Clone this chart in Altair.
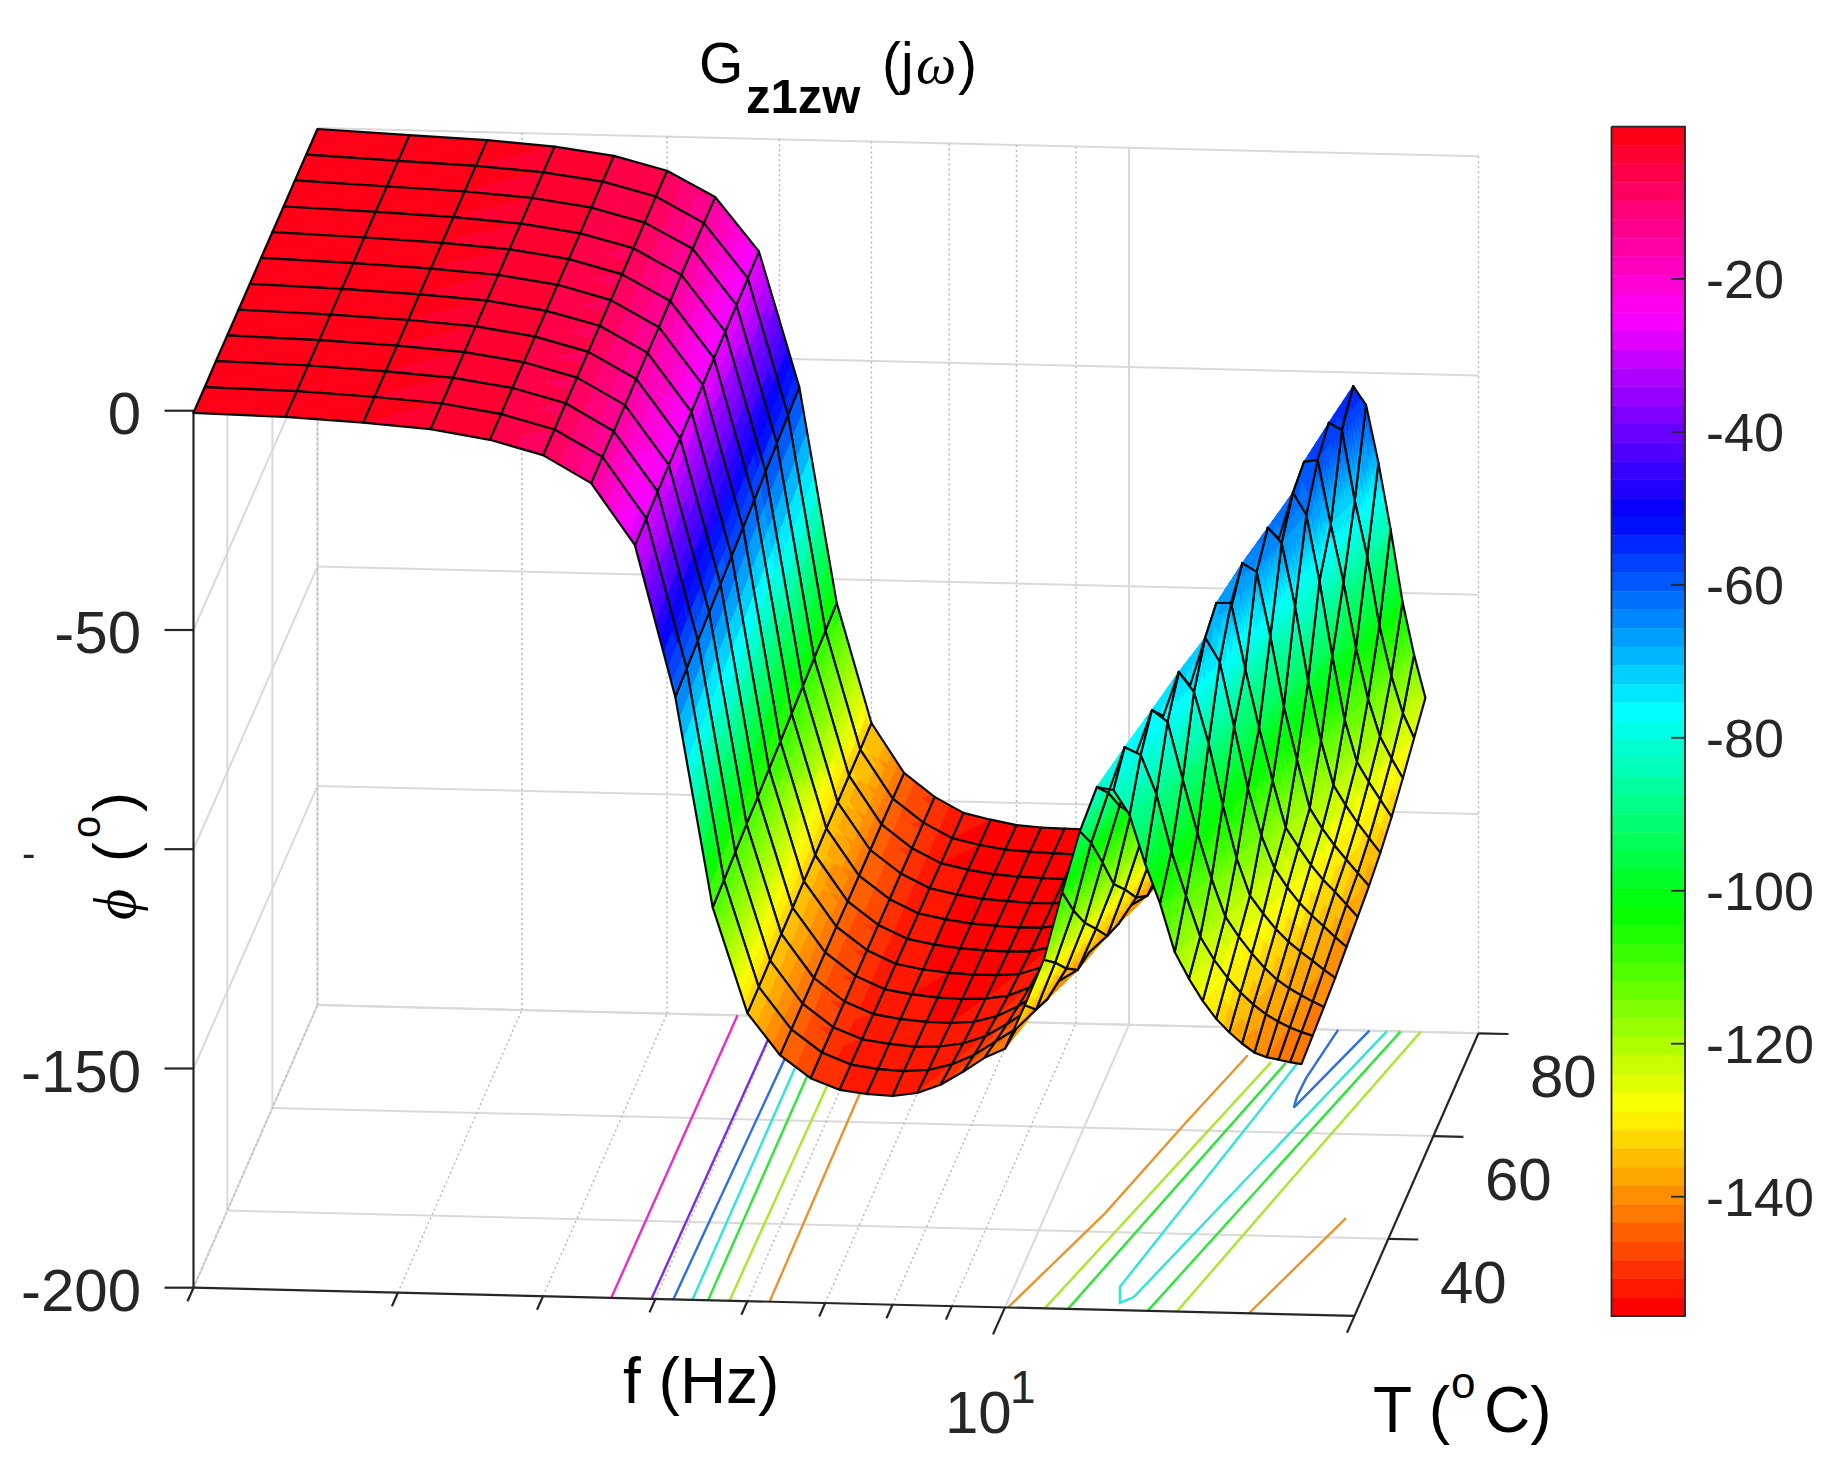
import math
import colorsys
import altair as alt
import pandas as pd

# ---------- data ----------
F_VALUES = [2.0,2.4,2.8,3.2,3.6,4.0,4.4,4.8,5.2,5.6,6.0,6.4,6.8,7.2,7.6,8.0,8.4,8.8,9.2,9.6,10.0,
            10.4,10.8,11.2,11.6,12.0,12.4,12.8,13.2,13.6,14.0,14.4,14.8,15.2,15.6,16.0,16.4,16.8,17.2,17.6,18.0]
T_VALUES = [25,30,35,40,45,50,55,60,65,70,75,80]

PHI_T25 = [-.5,-.9,-1.8,-2.9,-5,-8.2,-14.3,-28.2,-62.6,-110.4,-134.3,-143.7,-148.8,-151.3,-152.1,-152.4,-151.6,-149.6,-146.5,-143.2,-141,-131,-120.5,-105,-91,-80.8,-81.4,-87,-98,-107,-118,-124,-129,-133,-136,-138.5,-140.5,-141.5,-142,-142.5,-142.9]
PHI_T30 = [-.5,-.9,-1.8,-2.9,-5,-8.2,-14.2,-28,-62,-110,-134.2,-143.7,-148.8,-151.4,-152.3,-152.6,-152.2,-150.8,-148.5,-145.3,-142.3,-137.8,-127,-115,-99.5,-88,-77.5,-79.2,-88,-101,-111,-120.3,-125.5,-129.5,-132.8,-135.5,-137.6,-139.2,-140.5,-141.5,-142.3]
PHI_T35 = [-.4,-.9,-1.8,-2.9,-4.9,-8.1,-14.2,-27.7,-61.5,-109.5,-134,-143.7,-148.9,-151.5,-152.4,-152.9,-152.7,-151.9,-150.1,-147.2,-144.1,-141.3,-134.2,-123.7,-109.8,-96.8,-85,-74.8,-77.4,-90.4,-102.5,-112.9,-121.5,-126,-129.8,-133,-135.6,-137.5,-139,-140.4,-141.6]
PHI_T40 = [-.4,-1,-1.8,-2.9,-4.9,-8.1,-14.1,-27.5,-60.9,-109,-133.8,-143.7,-148.9,-151.6,-152.6,-153.1,-153.2,-152.8,-151.4,-149,-146,-143.1,-140.4,-130.9,-120.6,-104.4,-93.6,-82,-71.9,-76.4,-88,-102,-114,-122.5,-126.5,-130,-132.8,-135,-137,-139,-140.8]
PHI_T45 = [-.4,-1,-1.8,-2.9,-4.9,-8.1,-14,-27.3,-60.3,-108.6,-133.7,-143.7,-148.9,-151.8,-152.8,-153.4,-153.6,-153.4,-152.6,-150.6,-148,-145,-142.3,-138.4,-127.7,-115.8,-99.6,-90,-80.8,-69.9,-75.3,-90,-104,-114.6,-122,-126.3,-129.8,-132.6,-135,-137.4,-139.6]
PHI_T50 = [-.4,-1,-1.8,-2.9,-4.9,-8,-13.9,-27.1,-59.8,-108.1,-133.5,-143.7,-148.9,-151.9,-153,-153.6,-153.9,-153.9,-153.5,-151.9,-149.7,-147,-144.1,-141.5,-135.4,-124.8,-111,-96.4,-82,-67.8,-67.7,-82.7,-96,-108,-118.6,-123,-127,-130.3,-133,-135.8,-138.6]
PHI_T55 = [-.3,-1,-1.8,-2.9,-4.8,-8,-13.9,-26.8,-59.2,-107.7,-133.4,-143.8,-149,-152,-153.2,-153.9,-154.2,-154.4,-154.2,-153,-151.1,-148.8,-146,-143.3,-140.8,-132.6,-122.5,-106.4,-92.7,-78,-64.5,-66.4,-81,-97,-109,-120,-124.5,-128.3,-131.5,-134.5,-137.4]
PHI_T60 = [-.3,-1,-1.8,-2.9,-4.8,-8,-13.8,-26.6,-58.7,-107.2,-133.2,-143.8,-149,-152.1,-153.3,-154.1,-154.5,-154.7,-154.7,-153.8,-152.3,-150.3,-147.9,-145.2,-142.6,-140.1,-130,-119.4,-102.1,-88,-75,-62.2,-65.6,-80,-97,-110.5,-120.5,-125,-129,-132.4,-135.7]
PHI_T65 = [-.3,-1,-1.8,-2.9,-4.8,-7.9,-13.7,-26.4,-58.1,-106.8,-133.1,-143.8,-149,-152.2,-153.5,-154.3,-154.7,-155,-155,-154.4,-153.3,-151.7,-149.7,-147.1,-144.4,-142,-138.3,-127.7,-115.6,-98,-81,-70.5,-60,-65,-80,-97,-111.5,-121,-125.5,-129.5,-133.4]
PHI_T70 = [-.2,-1.1,-1.8,-2.9,-4.8,-7.9,-13.6,-26.2,-57.5,-106.3,-132.9,-143.8,-149.1,-152.4,-153.7,-154.6,-155,-155.2,-155.3,-154.9,-154.1,-152.8,-151.1,-149,-146.4,-143.9,-141.5,-136.1,-125.7,-111.6,-92.5,-72,-58.8,-58.3,-73,-86,-101,-112.5,-121,-126,-130.4]
PHI_T75 = [-.2,-1.1,-1.8,-2.9,-4.7,-7.8,-13.6,-25.9,-57,-105.9,-132.8,-143.8,-149.1,-152.5,-153.9,-154.8,-155.2,-155.4,-155.5,-155.2,-154.6,-153.7,-152.3,-150.4,-148.3,-145.8,-143.3,-141,-134.2,-123.9,-108,-84,-70.2,-55.7,-57.3,-73.3,-86,-101.6,-113,-121.5,-127.1]
PHI_T80 = [-.2,-1.1,-1.8,-2.9,-4.7,-7.8,-13.5,-25.7,-56.4,-105.4,-132.6,-143.8,-149.1,-152.6,-154,-155.1,-155.5,-155.6,-155.7,-155.5,-155,-154.3,-153.4,-152,-150.5,-149,-146.7,-144.5,-142,-132.5,-122,-104.6,-76,-64.4,-53.1,-57.3,-70.4,-85.5,-102,-114,-123.8]
PHI_ROWS = [PHI_T25,PHI_T30,PHI_T35,PHI_T40,PHI_T45,PHI_T50,PHI_T55,PHI_T60,PHI_T65,PHI_T70,PHI_T75,PHI_T80]

# floor contours: (level, [(f, T), ...])
CONTOURS = [
    (-20,  [(4.58,25),(4.60,80)]),
    (-40,  [(4.96,25),(4.99,80)]),
    (-60,  [(5.18,25),(5.25,80)]),
    (-80,  [(5.38,25),(5.39,80)]),
    (-100, [(5.55,25),(5.56,80)]),
    (-120, [(5.79,25),(5.84,80)]),
    (-140, [(6.27,25),(6.25,80)]),
    (-140, [(10.06,25),(11.22,43.6),(12.16,61.4),(12.96,74.7)]),
    (-120, [(10.82,25),(12.19,49.8),(13.65,73.5)]),
    (-100, [(11.33,25),(12.62,49.2),(14.06,73.4)]),
    (-80,  [(14.39,73.5),(12.31,29.5),(12.48,26.4),(12.76,27.6),(16.68,80)]),
    (-60,  [(15.14,80),(14.82,70.5),(14.79,67),(14.84,64.8),(16.11,80)]),
    (-100, [(13.27,25),(15.0,51.4),(17.14,80)]),
    (-120, [(14.06,25),(15.78,52),(17.83,80)]),
    (-140, [(16.22,25),(18.08,43.8)]),
]

Z_TICKS = [0,-50,-100,-150,-200]
Z_LABELS = ["0","-50","","-150","-200"]
T_TICKS = [40,60,80]
F_MINOR = [2,3,4,5,6,7,8,9,20]
F_MINOR_TICKS = [3,4,5,6,7,8,9]
CB_TICKS = [-20,-40,-60,-80,-100,-120,-140]
CB_TOP, CB_BOTTOM = -0.1, -155.6
N_LEVELS = 64

# ---------- geometry helpers ----------
def uvw(f, T, phi):
    return math.log10(f/2.0), (T-25.0)/55.0, (phi+200.0)/200.0

def px(f, T, phi):
    u, v, w = uvw(f, T, phi)
    return [round(193.5+1161*u+124*v, 1), round(1287.7+28.2*u-282.6*v-877*w, 1)]

def depth(f, T, phi):
    u, v, w = uvw(f, T, phi)
    return 0.1068*u - v + 0.3257*w

def band_colour(i, sat=1.0, value=1.0):
    r, g, b = colorsys.hsv_to_rgb((N_LEVELS-1-i)/N_LEVELS, sat, value)
    return "#%02x%02x%02x" % (round(r*255), round(g*255), round(b*255))

def level_colour(phi, sat=1.0, value=1.0):
    i = int((CB_TOP-phi)/(CB_TOP-CB_BOTTOM)*N_LEVELS)
    return band_colour(max(0, min(N_LEVELS-1, i)), sat, value)

def feat(kind, coords, **props):
    return {"type": "Feature", "geometry": {"type": kind, "coordinates": coords}, "properties": props}

def line(pts):
    return feat("LineString", pts)

# ---------- surface, far to near ----------
def shade_cells(i, j):
    """Colour facets inside one mesh cell: two shaded triangles, split along the
    (i,j)-(i+1,j+1) diagonal, as the original renderer's interpolated shading does."""
    f0, f1 = F_VALUES[i], F_VALUES[i+1]
    T0, T1 = T_VALUES[j], T_VALUES[j+1]
    a, b = PHI_ROWS[j][i], PHI_ROWS[j][i+1]
    c, d = PHI_ROWS[j+1][i], PHI_ROWS[j+1][i+1]
    n = max(1, min(10, math.ceil(max(abs(a-b), abs(c-d), abs(a-c), abs(b-d), abs(a-d))/2.6)))
    def at(s, t):
        phi = a+(b-a)*s+(d-b)*t if s >= t else a+(d-c)*s+(c-a)*t
        return (f0+(f1-f0)*s, T0+(T1-T0)*t, phi)
    facets = []
    for p in range(n):
        for q in range(n):
            s0, s1, t0, t1 = p/n, (p+1)/n, q/n, (q+1)/n
            if p == q:
                polys = [[(s0,t0),(s1,t0),(s1,t1)], [(s0,t0),(s1,t1),(s0,t1)]]
            else:
                polys = [[(s0,t0),(s1,t0),(s1,t1),(s0,t1)]]
            for poly in polys:
                ms = sum(x for x, _ in poly)/len(poly)
                mt = sum(y for _, y in poly)/len(poly)
                mid = at(ms, mt)
                ring = [px(*at(x, y)) for x, y in poly]
                ring.append(ring[0])
                col = level_colour(mid[2])
                facets.append((depth(*mid), feat("Polygon", [ring], fill=col, stroke=col, sw=0.8)))
    facets.sort(key=lambda x: x[0])
    return [x[1] for x in facets]

cells = []
for j in range(len(T_VALUES)-1):
    for i in range(len(F_VALUES)-1):
        corners = [(F_VALUES[i],T_VALUES[j],PHI_ROWS[j][i]), (F_VALUES[i+1],T_VALUES[j],PHI_ROWS[j][i+1]),
                   (F_VALUES[i+1],T_VALUES[j+1],PHI_ROWS[j+1][i+1]), (F_VALUES[i],T_VALUES[j+1],PHI_ROWS[j+1][i])]
        key = sum(depth(*c) for c in corners)
        cells.append((key, i, j, corners))
cells.sort(key=lambda c: c[0])

surface = []
for key, i, j, corners in cells:
    surface.extend(shade_cells(i, j))
    ring = [px(*c) for c in corners]
    ring.append(ring[0])
    surface.append(feat("LineString", ring, fill="transparent", stroke="#0a0a0a", sw=2.2))

# ---------- box ----------
F0, F1, T0, T1 = 2, 20, 25, 80
solid = []
for z in Z_TICKS:
    solid.append(line([px(F0,T0,z), px(F0,T1,z)]))
    solid.append(line([px(F0,T1,z), px(F1,T1,z)]))
for t in T_TICKS:
    solid.append(line([px(F0,t,-200), px(F0,t,0)]))
    solid.append(line([px(F0,t,-200), px(F1,t,-200)]))
solid.append(line([px(10,T0,-200), px(10,T1,-200)]))
solid.append(line([px(10,T1,-200), px(10,T1,0)]))

dotted = []
for f in F_MINOR:
    dotted.append(line([px(f,T0,-200), px(f,T1,-200)]))
    dotted.append(line([px(f,T1,-200), px(f,T1,0)]))

floor_lines = [feat("LineString", [px(f,T,-200) for f,T in pts], stroke=level_colour(lv, 0.8, 0.9)) for lv, pts in CONTOURS]

axes = [line([px(F0,T0,0), px(F0,T0,-200)]),
        line([px(F0,T0,-200), px(F1,T0,-200)]),
        line([px(F1,T0,-200), px(F1,T1,-200)])]
for z in Z_TICKS:
    a = px(F0,T0,z)
    axes.append(line([[a[0]-29, a[1]], a]))
for t in T_TICKS:
    a = px(F1,t,-200)
    axes.append(line([a, [a[0]+30, a[1]+0.7]]))
for f, n in [(ff, 1) for ff in F_MINOR_TICKS] + [(10, 2), (20, 1.25), (2, 1)]:
    a = px(f,T0,-200)
    axes.append(line([a, [a[0]-6*n, a[1]+13.5*n]]))

# ---------- colour bar ----------
CB_X0, CB_X1, CB_Y0, CB_Y1 = 1611.5, 1685.0, 126.7, 1316.0
def cb_y(phi):
    return round(CB_Y0+(CB_TOP-phi)/(CB_TOP-CB_BOTTOM)*(CB_Y1-CB_Y0), 1)
bands = []
for i in range(N_LEVELS):
    y0 = CB_Y0+(CB_Y1-CB_Y0)*i/N_LEVELS
    y1 = CB_Y0+(CB_Y1-CB_Y0)*(i+1)/N_LEVELS
    col = band_colour(i)
    bands.append(feat("Polygon", [[[CB_X0,y0],[CB_X1,y0],[CB_X1,y1],[CB_X0,y1],[CB_X0,y0]]], fill=col, stroke=col))
cb_lines = [line([[CB_X0,CB_Y0],[CB_X1,CB_Y0],[CB_X1,CB_Y1],[CB_X0,CB_Y1],[CB_X0,CB_Y0]])]
for t in CB_TICKS:
    cb_lines.append(line([[CB_X1-14, cb_y(t)], [CB_X1, cb_y(t)]]))

# ---------- texts ----------
SANS, SERIF = "Liberation Sans", "Liberation Serif"
def text_layer(rows, font=SANS, size=60, colour="#262626", align="left", weight="normal", style="normal", angle=0):
    df = pd.DataFrame(rows, columns=["x","y","t"])
    return alt.Chart(df).mark_text(font=font, fontSize=size, color=colour, align=align, baseline="alphabetic",
                                   fontWeight=weight, fontStyle=style, angle=angle).encode(
        longitude="x:Q", latitude="y:Q", text="t:N")

def tick_rows():
    rows = []
    for z, lab in zip(Z_TICKS, Z_LABELS):
        if lab:
            rows.append([141, px(F0,T0,z)[1]+23, lab])
    return rows

texts = [
    text_layer(tick_rows(), align="right"),
    text_layer([[22, 867, "-"]], size=40),
    text_layer([[1530,1097,"80"],[1485,1200,"60"],[1440,1303,"40"]]),
    text_layer([[945,1433,"10"]]),
    text_layer([[1010,1403,"1"]], size=46),
    text_layer([[1706, cb_y(t)+19, str(t)] for t in CB_TICKS], size=54),
    text_layer([[699,83,"G"],[882,83,"(j"],[958,83,")"]], size=57, colour="#000000"),
    text_layer([[746,113,"z1zw"]], size=49, weight="bold", colour="#000000"),
    text_layer([[916,83,"ω"]], font=SERIF, size=57, style="italic", colour="#000000"),
    text_layer([[623,1403,"f (Hz)"]], size=64, colour="#000000"),
    text_layer([[1373,1432,"T ("],[1484,1432,"C)"]], size=64, colour="#000000"),
    text_layer([[1451,1398,"o"]], size=44, colour="#000000"),
    text_layer([[135,920,"ϕ"]], font=SERIF, size=60, style="italic", colour="#000000", angle=270),
    text_layer([[135,862,"("],[135,812,")"]], size=60, colour="#000000", angle=270),
    text_layer([[100,838,"o"]], size=40, colour="#000000", angle=270),
]

# ---------- chart ----------
def geo(features, **mark):
    return alt.Chart(alt.InlineData(values=features)).mark_geoshape(**mark)

layers = [
    geo(solid, filled=False, stroke="#d9d9d9", strokeWidth=2),
    geo(dotted, filled=False, stroke="#b8b8b8", strokeWidth=1.5, strokeDash=[2,3]),
    geo(floor_lines, filled=False, strokeWidth=2.4).encode(stroke=alt.Stroke("properties.stroke:N", scale=None)),
    geo(axes, filled=False, stroke="#262626", strokeWidth=2.2),
    geo(surface, strokeJoin="round", strokeCap="round").encode(
        fill=alt.Fill("properties.fill:N", scale=None),
        stroke=alt.Stroke("properties.stroke:N", scale=None),
        strokeWidth=alt.StrokeWidth("properties.sw:Q", scale=None)),
    geo(bands, strokeWidth=0.5).encode(
        fill=alt.Fill("properties.fill:N", scale=None),
        stroke=alt.Stroke("properties.stroke:N", scale=None)),
    geo(cb_lines, filled=False, stroke="#262626", strokeWidth=1.8),
] + texts

chart = alt.layer(*layers).project(type="identity", scale=1, translate=[-8,-8]).properties(
    width=1823, height=1450, padding=0, background="white"
).configure_view(stroke=None)

chart.save("out.html", embed_options={"renderer": "svg", "actions": False})
